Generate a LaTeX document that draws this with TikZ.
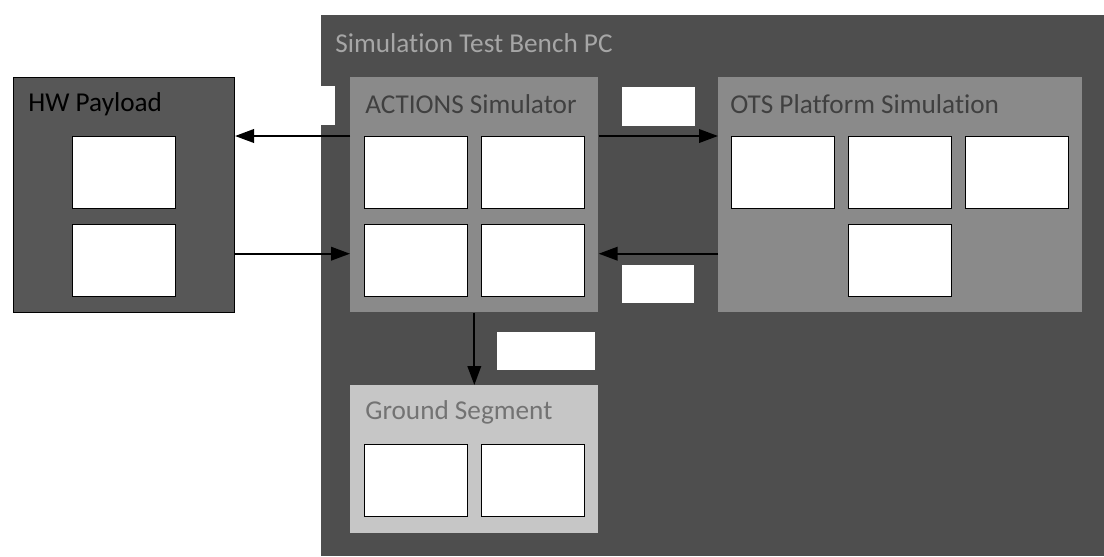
\documentclass[tikz,border=0pt]{standalone}
\usepackage{fontspec}
\setmainfont{Carlito}[Ligatures=NoCommon]
\usetikzlibrary{arrows.meta}

\definecolor{pcfill}{HTML}{4E4E4E}
\definecolor{hwfill}{HTML}{575757}
\definecolor{simfill}{HTML}{8A8A8A}
\definecolor{gsfill}{HTML}{C6C6C6}

\begin{document}
\begin{tikzpicture}[
  x=0.02cm, y=-0.02cm,
  font=\fontsize{15.5}{17}\selectfont,
  grp/.style={rectangle, inner sep=0pt, anchor=north west},
  cell/.style={draw, fill=white, line width=0.8pt, inner sep=0pt,
               anchor=north west, minimum width=2.06cm, minimum height=1.44cm},
  tag/.style={fill=white, inner sep=0pt, anchor=north west,
              minimum height=0.78cm},
  ttl/.style={anchor=west, inner sep=0pt},
  arr/.style={-{Triangle[length=0.38cm, width=0.27cm]}, line width=1.2pt, black}
]
  \useasboundingbox (0,0) rectangle (1104,556);

  %% simulation PC (runs off the right and bottom edges)
  \node[grp, fill=pcfill, minimum width=15.66cm, minimum height=10.82cm]
    (pc) at (321,15) {};
  \node[ttl, text=black!35] (pct) at (335,43) {Simulation Test Bench PC};

  %% hardware payload
  \node[grp, draw, line width=0.6pt, fill=hwfill,
        minimum width=4.42cm, minimum height=4.7cm] (hw) at (13,77) {};
  \node[ttl, text=black] (hwt) at (28,104) {HW Payload};
  \node[cell] (p1) at (72,136) {};
  \node[cell] (p2) at (72,224) {};

  %% ACTIONS simulator
  \node[grp, fill=simfill, minimum width=4.96cm, minimum height=4.7cm]
    (act) at (350,77) {};
  \node[ttl, text=black!75] (actt) at (365,104) {ACTIONS Simulator};
  \node[cell] (a1) at (364,136) {};
  \node[cell] (a2) at (481,136) {};
  \node[cell] (a3) at (364,224) {};
  \node[cell] (a4) at (481,224) {};

  %% OTS platform
  \node[grp, fill=simfill, minimum width=7.28cm, minimum height=4.7cm]
    (ots) at (718,77) {};
  \node[ttl, text=black!75] (otst) at (730,104) {OTS Platform Simulation};
  \node[cell] (o1) at (731,136) {};
  \node[cell] (o2) at (848,136) {};
  \node[cell] (o3) at (965,136) {};
  \node[cell] (o4) at (848,224) {};

  %% ground segment
  \node[grp, fill=gsfill, minimum width=4.96cm, minimum height=2.96cm]
    (gs) at (350,385) {};
  \node[ttl, text=black!55] (gst) at (365,412) {Ground Segment};
  \node[cell] (g1) at (364,444) {};
  \node[cell] (g2) at (481,444) {};

  %% blank link tags
  \node[tag, minimum width=0.7cm] (t0) at (300,86) {};
  \node[tag, minimum width=1.46cm] (t1) at (622,87) {};
  \node[tag, minimum width=1.44cm, minimum height=0.76cm] (t2) at (622,265) {};
  \node[tag, minimum width=1.96cm, minimum height=0.76cm] (t3) at (497,332) {};

  %% links
  \draw[arr] (act.west |- a1.north) -- (hw.east |- a1.north);
  \draw[arr] ([yshift=0.14cm]hw.east |- p2.center) -- ([yshift=0.14cm]act.west |- p2.center);
  \draw[arr] (act.east |- a2.north) -- (ots.west |- a2.north);
  \draw[arr] ([yshift=0.14cm]ots.west |- o4.center) -- ([yshift=0.14cm]act.east |- o4.center);
  \draw[arr] (act.south) -- (gs.north);
\end{tikzpicture}
\end{document}
